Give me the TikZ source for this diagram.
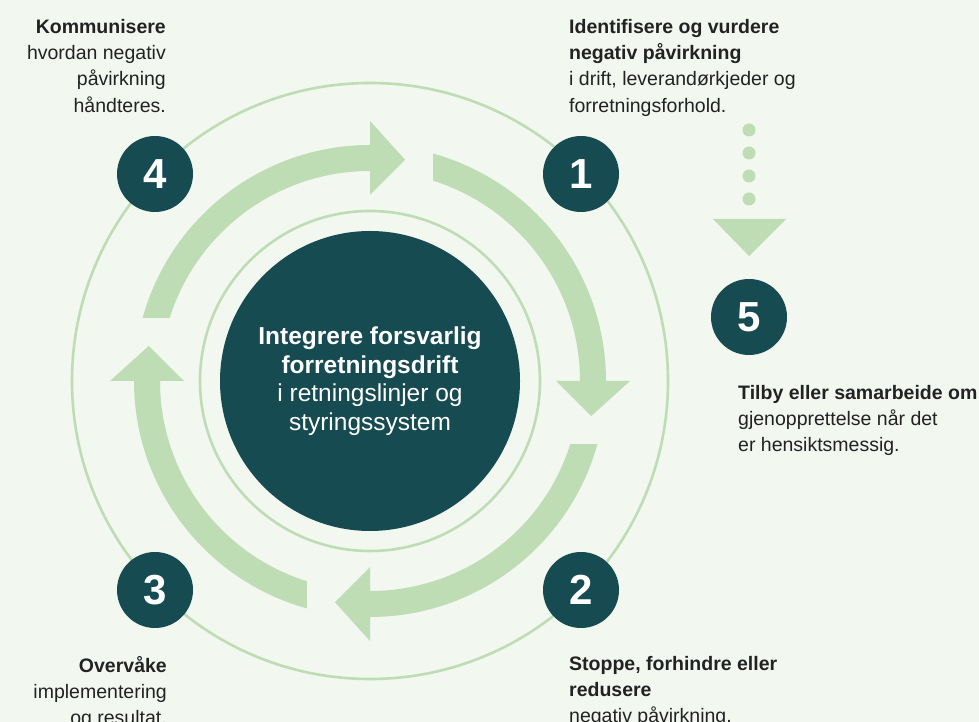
\documentclass[tikz,border=0pt]{standalone}
\usepackage{fontspec}
\setmainfont{Liberation Sans}
\usetikzlibrary{positioning,calc}
\definecolor{ringgreen}{HTML}{BEDDB5}
\definecolor{coreteal}{HTML}{164B51}
\definecolor{pagebg}{HTML}{F2F7F0}
\definecolor{txtdark}{HTML}{222222}

\begin{document}
\begin{tikzpicture}[
  x=1pt, y=1pt,
  ring/.style={draw=ringgreen, line width=2.6pt},
  band/.style={fill=ringgreen},
  num/.style={circle, fill=coreteal, minimum size=76pt, inner sep=0pt,
              text=white, font=\fontsize{42}{42}\selectfont\bfseries},
  core/.style={circle, fill=coreteal, minimum size=300pt, inner sep=0pt,
               text=white, align=center, font=\fontsize{24.5}{28.5}\selectfont},
  note/.style={inner sep=0pt, text=txtdark, font=\fontsize{19.5}{26.3}\selectfont},
  dot/.style={circle, fill=ringgreen, minimum size=13pt, inner sep=0pt},
]
\useasboundingbox[fill=pagebg] (0,0) rectangle (979,722);
\coordinate (cen) at (370,341);

%% ---- thin rings ----
\draw[ring] (cen) circle[radius=298];
\draw[ring] (cen) circle[radius=170];

%% ---- four cycle arrows ----
\foreach \k in {0,...,3}{
  \begin{scope}[shift={(cen)}, rotate=-90*\k]
    \fill[band] (74.5:236) arc[start angle=74.5, end angle=0, radius=236]
      -- (0:260) -- (-9:224) -- (0:186) -- (0:210)
      arc[start angle=0, end angle=72.5, radius=210] -- cycle;
  \end{scope}
}

%% ---- core ----
\node[core] (core) at (cen) {\textbf{Integrere forsvarlig}\\\textbf{forretningsdrift}\\i retningslinjer og\\styringssystem};

%% ---- step numbers ----
\node[num] (n1) at (581,548) {1};
\node[num] (n2) at (581,132) {2};
\node[num] (n3) at (155,132) {3};
\node[num] (n4) at (155,548) {4};
\node[num] (n5) at (749,405) {5};

%% ---- dotted lead to step 5 ----
\foreach \y [count=\i] in {592,569,546,523}
  \node[dot] (dot\i) at (749,\y) {};
\fill[band] (713,503) -- (786,503) -- (749,466) -- cycle;

%% ---- step texts ----
\node[note, anchor=north west, align=left] (t1) at (569,703)
  {\textbf{Identifisere og vurdere}\\\textbf{negativ påvirkning}\\i drift, leverandørkjeder og\\forretningsforhold.};
\node[note, anchor=north west, align=left] (t2) at (569,66)
  {\textbf{Stoppe, forhindre eller}\\\textbf{redusere}\\negativ påvirkning.};
\node[note, anchor=north east, align=right] (t3) at (167,66)
  {\textbf{Overvåke}\\implementering\\og resultat.};
\node[note, anchor=north east, align=right] (t4) at (166,703)
  {\textbf{Kommunisere}\\hvordan negativ\\påvirkning\\håndteres.};
\node[note, anchor=north west, align=left] (t5) at (738,337)
  {\textbf{Tilby eller samarbeide om}\\gjenopprettelse når det\\er hensiktsmessig.};

\end{tikzpicture}
\end{document}
